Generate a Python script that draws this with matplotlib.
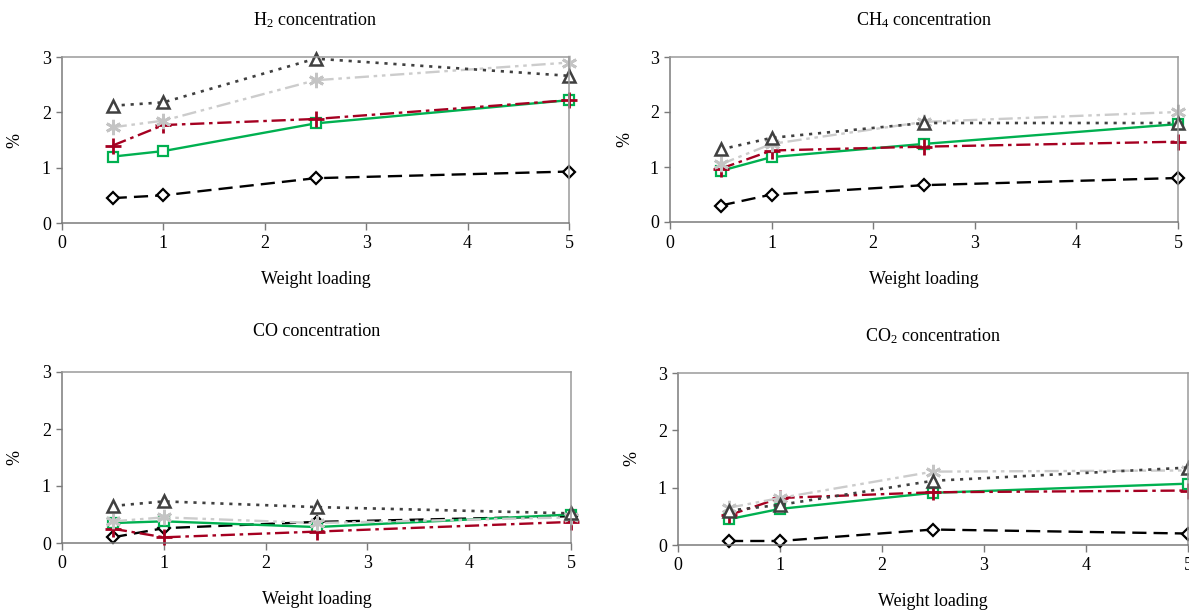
import matplotlib
matplotlib.use("Agg")
import matplotlib.pyplot as plt

plt.rcParams['font.family'] = ['Liberation Serif', 'DejaVu Serif']
plt.rcParams['mathtext.fontset'] = 'stix'

x_loading = [0.5, 1, 2.5, 5]
x_ticks = [0, 1, 2, 3, 4, 5]
y_ticks = [0, 1, 2, 3]

titles = [r"H$_\mathregular{2}$ concentration", r"CH$_\mathregular{4}$ concentration",
          "CO concentration", r"CO$_\mathregular{2}$ concentration"]

# H2 panel
h2_diamond = [0.45, 0.50, 0.81, 0.93]
h2_square = [1.20, 1.30, 1.80, 2.22]
h2_plus = [1.40, 1.77, 1.88, 2.22]
h2_star = [1.73, 1.85, 2.58, 2.90]
h2_triangle = [2.12, 2.18, 2.97, 2.66]

# CH4 panel
ch4_diamond = [0.30, 0.50, 0.67, 0.80]
ch4_square = [0.93, 1.18, 1.42, 1.78]
ch4_plus = [0.97, 1.30, 1.37, 1.46]
ch4_star = [1.05, 1.42, 1.82, 2.00]
ch4_triangle = [1.32, 1.53, 1.80, 1.80]

# CO panel
co_diamond = [0.10, 0.26, 0.37, 0.47]
co_square = [0.35, 0.38, 0.28, 0.50]
co_plus = [0.25, 0.10, 0.20, 0.37]
co_star = [0.38, 0.45, 0.35, 0.45]
co_triangle = [0.65, 0.73, 0.63, 0.52]

# CO2 panel
co2_diamond = [0.07, 0.07, 0.27, 0.20]
co2_square = [0.45, 0.63, 0.91, 1.07]
co2_plus = [0.52, 0.82, 0.92, 0.95]
co2_star = [0.65, 0.82, 1.28, 1.30]
co2_triangle = [0.60, 0.70, 1.12, 1.35]

panels = [
    [h2_diamond, h2_square, h2_plus, h2_star, h2_triangle],
    [ch4_diamond, ch4_square, ch4_plus, ch4_star, ch4_triangle],
    [co_diamond, co_square, co_plus, co_star, co_triangle],
    [co2_diamond, co2_square, co2_plus, co2_star, co2_triangle],
]

styles = [
    dict(color='black', linestyle=(0, (6, 3)), marker='D', ms=6.5, mfc='white', mec='black', mew=1.6, lw=1.7),
    dict(color='#00B050', linestyle='-', marker='s', ms=7, mfc='white', mec='#00B050', mew=1.6, lw=1.7),
    dict(color='#A50021', linestyle=(0, (6, 2, 1.5, 2)), marker='+', ms=12, mec='#A50021', mew=2, lw=1.7),
    dict(color='#CCCCCC', linestyle=(0, (6, 2, 1.5, 2, 1.5, 2)), marker=(6, 2, 0), ms=11, mec='#C4C4C4', mew=2, lw=1.7),
    dict(color='#404040', linestyle=(0, (1.2, 2.2)), marker='^', ms=8, mfc='white', mec='#404040', mew=1.8, lw=1.9),
]

W, H = 1189, 610
# (x0 pixel, x1 pixel, top pixel, bottom pixel, ylabel x pixel, title y pixel)
boxes = [
    (62, 569, 57, 223, 15, 20),
    (670, 1178, 57, 222, 625, 20),
    (62, 571, 372, 543, 15, 332),
    (678, 1188, 373, 545, 632, 336),
]

fig = plt.figure(figsize=(W / 100, H / 100), dpi=100)
for (x0, x1, top, bot, ylx, tty), title, series in zip(boxes, titles, panels):
    ax = fig.add_axes([x0 / W, (H - bot) / H, (x1 - x0) / W, (bot - top) / H])
    for vals, st in zip(series, styles):
        ax.plot(x_loading, vals, clip_on=False, **st)
    ax.set_xlim(0, 5)
    ax.set_ylim(0, 3)
    ax.set_xticks(x_ticks)
    ax.set_yticks(y_ticks)
    for side in ['left', 'bottom']:
        ax.spines[side].set_color('#7a7a7a')
        ax.spines[side].set_linewidth(1.1)
    for side in ['top', 'right']:
        ax.spines[side].set_color('#9a9a9a')
        ax.spines[side].set_linewidth(1.1)
    ax.tick_params(axis='x', direction='out', length=5, width=1, color='#7a7a7a', labelsize=13, pad=4)
    ax.tick_params(axis='y', direction='out', length=4, width=1, color='#7a7a7a', labelsize=13, pad=4)
    hgt = bot - top
    fig.text((x0 + x1) / 2 / W, 1 - tty / H, title, fontsize=13, ha='center', va='center')
    ax.set_xlabel('Weight loading', fontsize=13)
    ax.xaxis.label.set_va('center')
    ax.xaxis.set_label_coords(0.5, -(57) / hgt)
    ax.set_ylabel('%', fontsize=13)
    ax.yaxis.label.set_va('center')
    ax.yaxis.label.set_ha('center')
    ax.yaxis.set_label_coords((ylx - x0) / (x1 - x0), 0.5)

fig.savefig('out.png', dpi=100)
